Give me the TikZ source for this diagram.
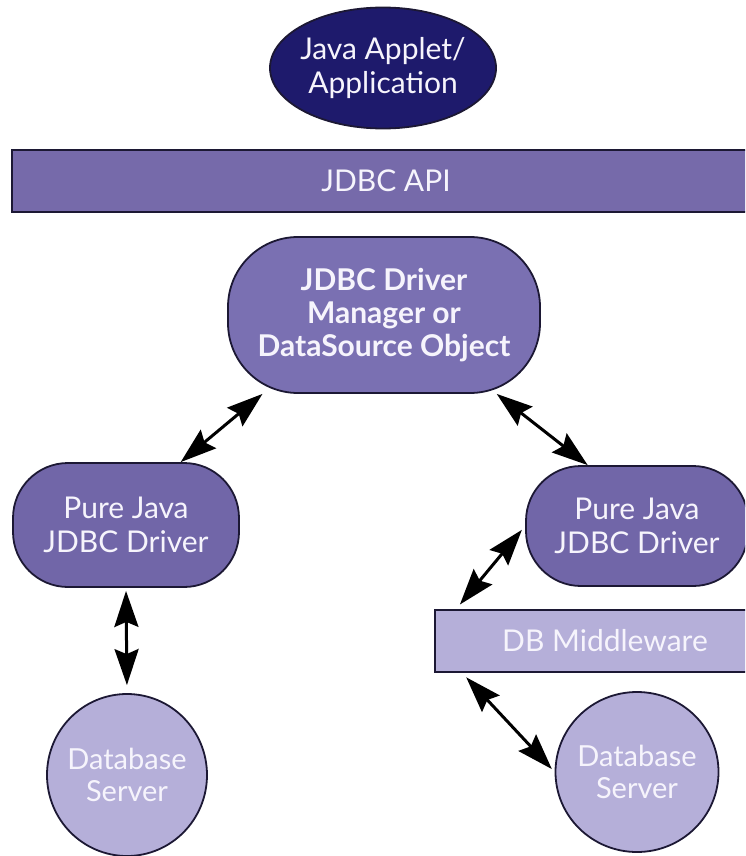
\documentclass[tikz,border=0pt]{standalone}
\usepackage{fontspec}
\setmainfont{Lato}
\usepackage{tikz}
\usetikzlibrary{arrows.meta,shapes.geometric}

\definecolor{appnavy}{RGB}{30,26,108}
\definecolor{apipurple}{RGB}{118,106,170}
\definecolor{mgrpurple}{RGB}{122,112,178}
\definecolor{drvpurple}{RGB}{113,102,168}
\definecolor{dblilac}{RGB}{181,175,217}
\definecolor{edgedark}{RGB}{28,24,52}
\definecolor{labelwhite}{RGB}{246,244,252}

\begin{document}
\begin{tikzpicture}[x=1pt,y=1pt,yscale=-1,xscale=1,
  >={Stealth[length=36pt,width=24pt,inset=5pt]},
  box/.style={draw=edgedark,line width=1.8pt,text=labelwhite,align=center,
    font=\fontsize{30}{34}\selectfont},
  pill/.style={box,rectangle,rounded corners=55pt},
  oval/.style={box,ellipse,inner xsep=-6pt,inner ysep=0pt},
  bar/.style={box,rectangle,minimum height=62pt},
  link/.style={<->,line width=3pt}]
\useasboundingbox (0,0) rectangle (745,856);
\clip (0,0) rectangle (745,856);

%Shape: Ellipse [id:app]
\node (app) at (383,68) [oval,fill=appnavy,minimum width=226pt,minimum height=121pt] {Java Applet/\\Application};
%Shape: Rectangle [id:api]
\node (api) at (386,181) [bar,fill=apipurple,line width=2.8pt,minimum width=748pt] {JDBC API};
%Shape: Rounded Rect [id:mgr]
\node (mgr) at (384,315) [pill,fill=mgrpurple,rounded corners=70pt,minimum width=312pt,minimum height=156pt,
  font=\fontsize{30}{33}\selectfont\bfseries] {JDBC Driver\\Manager or\\DataSource Object};
%Shape: Rounded Rect [id:ldrv]
\node (ldrv) at (126,525) [pill,fill=drvpurple,minimum width=226pt,minimum height=124pt] {Pure Java\\JDBC Driver};
%Shape: Rounded Rect [id:rdrv]
\node (rdrv) at (637,526) [pill,fill=drvpurple,minimum width=222pt,minimum height=120pt] {Pure Java\\JDBC Driver};
%Shape: Rectangle [id:mw]
\node (mw) at (605,641) [bar,fill=dblilac,minimum width=340pt] {DB Middleware};
%Shape: Ellipse [id:ldb]
\node (ldb) at (127,775) [oval,fill=dblilac,minimum width=160pt,minimum height=162pt,
  font=\fontsize{29}{32}\selectfont] {Database\\Server};
%Shape: Ellipse [id:rdb]
\node (rdb) at (637,772) [oval,fill=dblilac,minimum width=163pt,minimum height=160pt,
  font=\fontsize{29}{32}\selectfont] {Database\\Server};

%Straight Lines
\draw [link] (mgr.213) -- (ldrv.49);
\draw [link] (mgr.325) -- (rdrv.129);
\draw [link,shorten <=3pt,shorten >=8pt] (ldrv.south) -- (ldb.north);
\draw [link,shorten <=5pt,shorten >=6pt] (rdrv.west) -- ([xshift=22pt]mw.north west);
\draw [link,shorten <=6pt,shorten >=4pt] ([xshift=28pt]mw.south west) -- (rdb.west);

\end{tikzpicture}
\end{document}
